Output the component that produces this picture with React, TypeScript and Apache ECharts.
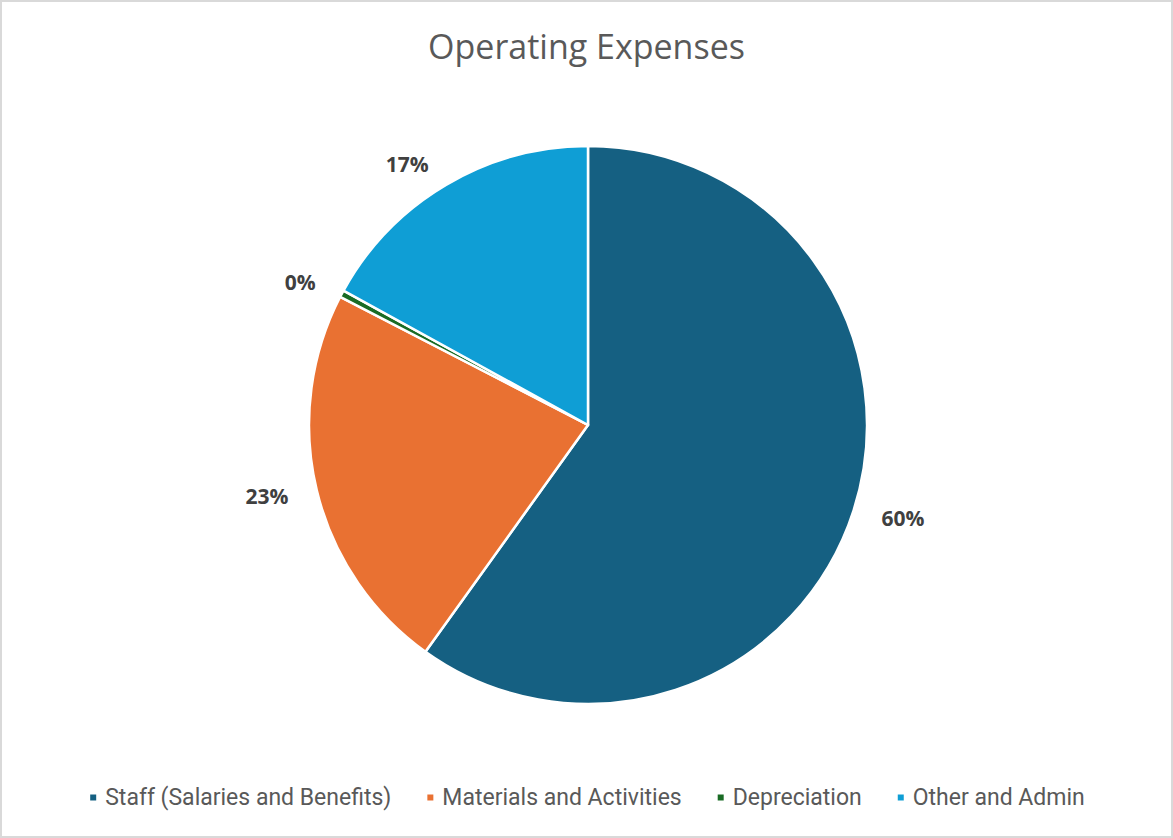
import React, { useEffect, useRef } from "react";
import * as echarts from "echarts";

const categories = [
  "Staff (Salaries and Benefits)",
  "Materials and Activities",
  "Depreciation",
  "Other and Admin",
];
const values = [59.9, 22.7, 0.4, 17.0];
const colors = ["#156082", "#E97132", "#196B24", "#0F9ED5"];

export default function App() {
  const ref = useRef<HTMLDivElement>(null);
  useEffect(() => {
    if (!ref.current) return;
    const chart = echarts.init(ref.current, undefined, { renderer: "svg" });
    chart.setOption({
      animation: false,
      backgroundColor: "#ffffff",
      title: {
        text: "Operating Expenses",
        left: "center",
        top: 22,
        textStyle: {
          fontFamily: "Open Sans",
          fontSize: 34,
          fontWeight: "normal",
          color: "#595959",
        },
      },
      legend: {
        bottom: 22,
        left: "center",
        icon: "rect",
        itemWidth: 8,
        itemHeight: 8,
        itemGap: 34,
        data: categories,
        textStyle: {
          fontFamily: "Roboto",
          fontSize: 23,
          color: "#595959",
          padding: [0, 0, 0, 3],
        },
      },
      series: [
        {
          type: "pie",
          center: [586, 423],
          radius: 279,
          startAngle: 90,
          clockwise: true,
          emphasis: { disabled: true },
          itemStyle: { borderColor: "#ffffff", borderWidth: 2.5 },
          label: {
            show: true,
            position: "outside",
            formatter: (p: any) => Math.round(p.percent) + "%",
            fontFamily: "Open Sans",
            fontWeight: "bold",
            fontSize: 21,
            color: "#404040",
          },
          labelLine: { show: false, length: 24, length2: 0 },
          data: categories.map((name, i) => ({
            name,
            value: values[i],
            itemStyle: { color: colors[i] },
          })),
        },
      ],
    });
    return () => chart.dispose();
  }, []);
  return (
    <div
      ref={ref}
      style={{
        position: "absolute",
        left: 0,
        top: 0,
        width: 1173,
        height: 838,
        boxSizing: "border-box",
        border: "2px solid #d9d9d9",
      }}
    />
  );
}
